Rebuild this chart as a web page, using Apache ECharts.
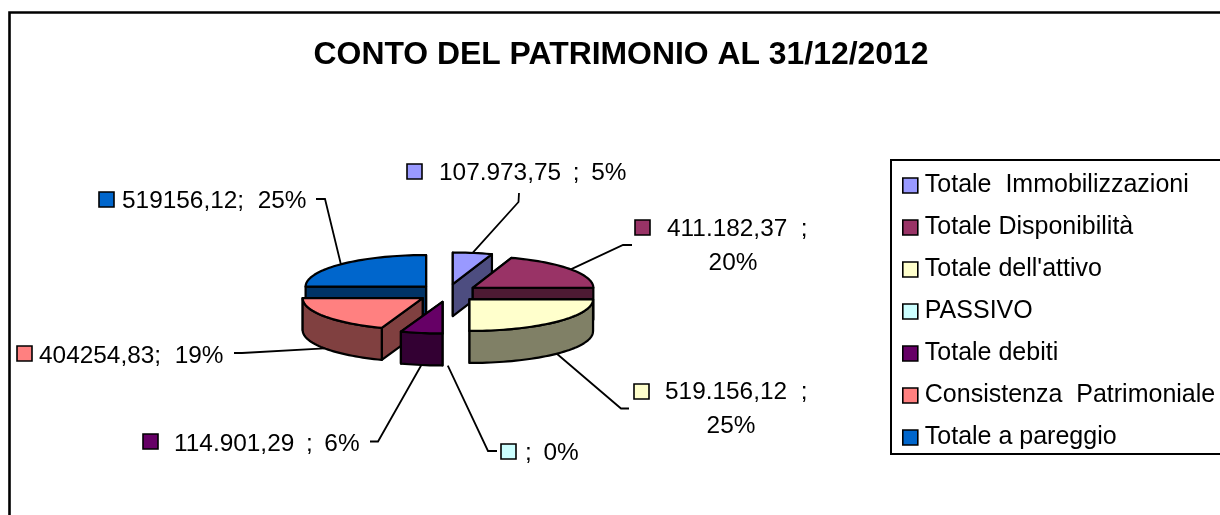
<!DOCTYPE html>
<html>
<head>
<meta charset="utf-8">
<style>html,body{margin:0;padding:0;background:#fff;overflow:hidden}#c{width:1220px;height:515px}</style>
<script src="https://cdn.jsdelivr.net/npm/echarts@6/dist/echarts.min.js"></script>
</head>
<body>
<div id="c"></div>
<script>
var categories = ['Totale  Immobilizzazioni','Totale Disponibilità',"Totale dell'attivo",'PASSIVO','Totale debiti','Consistenza  Patrimoniale','Totale a pareggio'];
var values = [107973.75, 411182.37, 519156.12, 0, 114901.29, 404254.83, 519156.12];
var valueLabels = ['107.973,75 \u2009; \u20095%', '411.182,37  ;', '519.156,12  ;', '; \u20090%', '114.901,29 \u2009; \u20096%', '404254,83;  19%', '519156,12;  25%'];
var secondLines = ['', '20%', '25%', '', '', '', ''];
var topColors = ['#9999FF','#993366','#FFFFCC','#CCFFFF','#660066','#FF8080','#0066CC'];
var sideColors = ['#4D4D80','#4D1A33','#808066','#668080','#330033','#804040','#003366'];

// layout (not data)
var PIE = {cx:447.8, cy:293, ry:31.6, depth:32, ex:30.7, ey:9};
var sliceRx = [122, 120.6, 123.5, 122, 122, 120, 120.5];
var paintOrder = [1,2,4,6,5,3,0]; // z-index per slice
var swatchXY = [[407,164],[635,220],[634,384],[501,444],[143,434],[17,346],[99,192]];
var textXY = [[439,173],[667,229],[665,392],[525,453],[174,444],[39,356],[122,201]];
var line2XY = [null,[733,263],[731,426],null,null,null,null];
var elbow = [
  [[518.5,202],[519,193]],
  [[623,245],[632,245]],
  [[621,408.5],[629,408.5]],
  [[488,451],[497,451]],
  [[378,441.5],[370,441.5]],
  [[242,353],[234,353]],
  [[325,199],[316,199]]
];
var FONT = '"Liberation Sans", Arial, sans-serif';
var LABEL_SIZE = 24.4;

var total = values.reduce(function(a,b){return a+b;},0);
var startAngles = [], acc = 0;
values.forEach(function(v){ startAngles.push(acc/total*360); acc += v; });

function rad(d){return d*Math.PI/180;}
function renderSlice(i){
  return function(params, api){
    var v = api.value(0);
    var s = startAngles[i], e = s + v/total*360, m = (s+e)/2;
    var cx = PIE.cx + PIE.ex*Math.sin(rad(m));
    var cy = PIE.cy - PIE.ey*Math.cos(rad(m));
    var pt = function(a,drop){ return [cx+sliceRx[i]*Math.sin(rad(a)), cy-PIE.ry*Math.cos(rad(a))+(drop||0)]; };
    var d = PIE.depth, kids = [];
    var sty = function(fill){ return {fill:fill, stroke:'#000', lineWidth:2.2, lineJoin:'round'}; };
    if (v > 0) {
      var face = function(a){ var p = pt(a); return {type:'polygon', shape:{points:[[cx,cy],p,[p[0],p[1]+d],[cx,cy+d]]}, style:sty(sideColors[i])}; };
      var startVisible = Math.sin(rad(s)) < -1e-6, endVisible = Math.sin(rad(e)) > 1e-6;
      if (!startVisible) kids.push(face(s));
      if (!endVisible) kids.push(face(e));
      if (startVisible) kids.push(face(s));
      if (endVisible) kids.push(face(e));
      var ws = Math.max(s,90), we = Math.min(e,270);
      if (we > ws) {
        var up = [], down = [];
        for (var a = ws; a < we; a += 2) { up.push(pt(a)); down.unshift(pt(a,d)); }
        up.push(pt(we)); down.unshift(pt(we,d));
        kids.push({type:'polygon', shape:{points:up.concat(down)}, style:sty(sideColors[i])});
      }
      var top = [[cx,cy]];
      for (var b = s; b < e; b += 2) top.push(pt(b));
      top.push(pt(e));
      kids.push({type:'polygon', shape:{points:top}, style:sty(topColors[i])});
    }
    // leader from the rim at the slice's mid angle
    var mc = Math.cos(rad(m));
    var rim = pt(m, mc < 0 ? d : 0);
    kids.push({type:'polyline', shape:{points:[rim].concat(elbow[i])}, style:{fill:null, stroke:'#000', lineWidth:1.8}});
    kids.push({type:'rect', shape:{x:swatchXY[i][0], y:swatchXY[i][1], width:15, height:15}, style:{fill:topColors[i], stroke:'#000', lineWidth:1.6}});
    kids.push({type:'text', style:{x:textXY[i][0], y:textXY[i][1], text:valueLabels[i], fill:'#000', fontFamily:FONT, fontSize:LABEL_SIZE, textAlign:'left', textVerticalAlign:'middle'}});
    if (line2XY[i]) kids.push({type:'text', style:{x:line2XY[i][0], y:line2XY[i][1], text:secondLines[i], fill:'#000', fontFamily:FONT, fontSize:LABEL_SIZE, textAlign:'center', textVerticalAlign:'middle'}});
    return {type:'group', children:kids};
  };
}

var chart = echarts.init(document.getElementById('c'), null, {renderer:'canvas'});
chart.setOption({
  animation:false,
  backgroundColor:'#fff',
  title:{text:'CONTO DEL PATRIMONIO AL 31/12/2012', left:621, textAlign:'center', top:34,
    textStyle:{fontFamily:FONT, fontSize:31.9, fontWeight:'bold', color:'#000'}},
  graphic:[{type:'rect', z:-1, shape:{x:9.5,y:12.5,width:1400,height:700}, style:{fill:'#fff', stroke:'#000', lineWidth:2.6}, silent:true}],
  legend:{
    orient:'vertical', left:891, top:160, data:categories, icon:'rect',
    itemWidth:15, itemHeight:15, itemGap:17, padding:[13,40,4,11],
    borderColor:'#000', borderWidth:2, backgroundColor:'#fff',
    selectedMode:false,
    itemStyle:{borderColor:'#000', borderWidth:1.6},
    textStyle:{fontFamily:FONT, fontSize:25, color:'#000', lineHeight:25, padding:[0,0,0,2]}
  },
  series:categories.map(function(name,i){
    return {type:'custom', name:name, coordinateSystem:'none', z:10+paintOrder[i], silent:true, clip:false,
      itemStyle:{color:topColors[i]}, data:[[values[i]]], renderItem:renderSlice(i)};
  })
});
chart.setOption({title:{left:616}});
</script>
</body>
</html>
